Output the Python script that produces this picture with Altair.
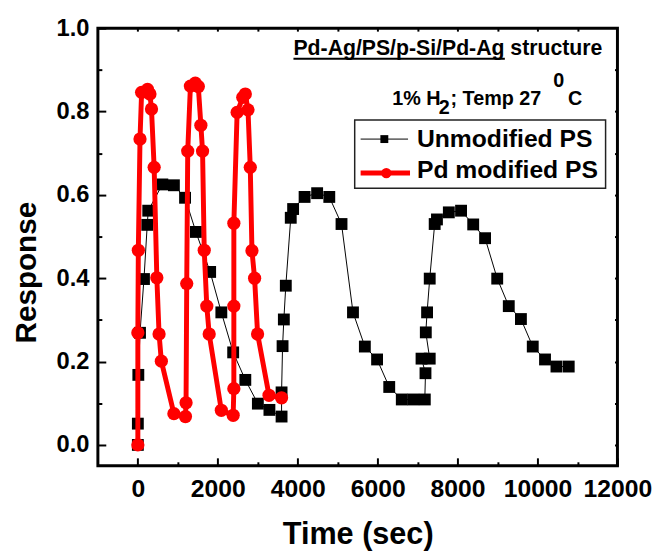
import altair as alt
import pandas as pd

# ---------------- data ----------------
# Unmodified PS (black squares)
black_t = [0, 0, 12, 54, 153, 235, 260, 613, 902, 1181, 1453, 1809, 2089, 2385,
           2689, 3003, 3292, 3596, 3596, 3621, 3653, 3702, 3826, 3885, 4172, 4486,
           4790, 5096, 5383, 5680, 5986, 6290, 6604, 6891, 7180, 7197, 7098, 7303,
           7205, 7237, 7303, 7427, 7484, 7781, 8087, 8391, 8688, 8992, 9281, 9585,
           9881, 10188, 10474, 10781]
black_r = [0.00, 0.051, 0.168, 0.269, 0.398, 0.528, 0.562, 0.625, 0.623, 0.593,
           0.511, 0.415, 0.318, 0.222, 0.156, 0.099, 0.084, 0.068, 0.126, 0.237,
           0.301, 0.382, 0.545, 0.566, 0.595, 0.604, 0.595, 0.530, 0.318, 0.236,
           0.205, 0.139, 0.109, 0.109, 0.109, 0.172, 0.207, 0.207, 0.270, 0.318,
           0.399, 0.530, 0.541, 0.558, 0.562, 0.529, 0.496, 0.399, 0.333, 0.302,
           0.236, 0.205, 0.188, 0.188]

# Pd modified PS (red circles)
red_t = [0, 0, 12, 54, 94, 242, 302, 341, 408, 475, 531, 588, 902, 1191, 1206,
         1223, 1248, 1315, 1438, 1513, 1577, 1619, 1661, 1725, 1785, 2089, 2385,
         2402, 2402, 2402, 2484, 2625, 2689, 2756, 2813, 2855, 2921, 2996, 3282,
         3596]
red_r = [0.00, 0.269, 0.467, 0.734, 0.846, 0.853, 0.842, 0.806, 0.666, 0.401,
         0.266, 0.201, 0.075, 0.068, 0.101, 0.387, 0.705, 0.861, 0.868, 0.860,
         0.767, 0.705, 0.467, 0.333, 0.266, 0.083, 0.071, 0.135, 0.333, 0.532,
         0.798, 0.834, 0.842, 0.804, 0.666, 0.466, 0.400, 0.266, 0.119, 0.113]

series_names = ["Unmodified PS", "Pd modified PS"]
x_major = [0, 2000, 4000, 6000, 8000, 10000, 12000]
x_minor = [1000, 3000, 5000, 7000, 9000, 11000]
x_all = [0, 1000, 2000, 3000, 4000, 5000, 6000, 7000, 8000, 9000, 10000, 11000]
y_major = [0.0, 0.2, 0.4, 0.6, 0.8, 1.0]
y_minor = [0.1, 0.3, 0.5, 0.7, 0.9]
y_all = [0.0, 0.1, 0.2, 0.3, 0.4, 0.5, 0.6, 0.7, 0.8, 0.9]

black_df = pd.DataFrame({"t": black_t, "r": black_r, "i": range(len(black_t))})
red_df = pd.DataFrame({"t": red_t, "r": red_r, "i": range(len(red_t))})
one = pd.DataFrame({"k": [0]})

# ---------------- layout ----------------
W, H = 526, 443
FONT = "Liberation Sans"
xs = alt.Scale(domain=[-1000, 12000], nice=False, zero=False)
ys = alt.Scale(domain=[-0.05, 1.0], nice=False, zero=False)


def tick_axis(orient, offset, values, size):
    return alt.Axis(orient=orient, offset=offset, values=values, tickSize=size,
                    tickWidth=2, tickColor="black", ticks=True, labels=False,
                    domain=False, grid=False, title="")


main_x = alt.Axis(orient="bottom", values=x_major, format="d", ticks=False,
                  domain=False, grid=False, labelFont=FONT,
                  labelFontWeight="bold", labelFontSize=25, labelColor="black",
                  labelPadding=11, labelFlush=False, labelOverlap=False,
                  title="Time (sec)", titleFont=FONT, titleFontWeight="bold",
                  titleFontSize=31, titleColor="black", titleX=263, titleY=79,
                  titleBaseline="alphabetic", titleAlign="center")
main_y = alt.Axis(orient="left", values=y_major, format=".1f", ticks=False,
                  domain=False, grid=False, labelFont=FONT,
                  labelFontWeight="bold", labelFontSize=24, labelColor="black",
                  labelPadding=9, labelFlush=False, labelOverlap=False,
                  title="Response", titleFont=FONT, titleFontWeight="bold",
                  titleFontSize=30, titleColor="black", titleAngle=270,
                  titleX=-63, titleY=247, titleBaseline="alphabetic",
                  titleAlign="center")

black_line = alt.Chart(black_df).mark_line(color="black", strokeWidth=1).encode(
    x=alt.X("t:Q", scale=xs, axis=main_x),
    y=alt.Y("r:Q", scale=ys, axis=main_y),
    order=alt.Order("i:Q"),
)
black_pts = alt.Chart(black_df).mark_point(shape="square", filled=True, size=144,
                                           color="black", opacity=1).encode(
    x=alt.X("t:Q", scale=xs, axis=tick_axis("top", -H, x_major, 8)),
    y=alt.Y("r:Q", scale=ys, axis=tick_axis("right", -W, y_major, 8)),
)
red_line = alt.Chart(red_df).mark_line(color="#ff0000", strokeWidth=5).encode(
    x=alt.X("t:Q", scale=xs, axis=tick_axis("top", -H, x_minor, 4)),
    y=alt.Y("r:Q", scale=ys, axis=tick_axis("right", -W, y_minor, 4)),
    order=alt.Order("i:Q"),
)
red_pts = alt.Chart(red_df).mark_point(shape="circle", filled=True, size=180,
                                       color="#ff0000", opacity=1).encode(
    x=alt.X("t:Q", scale=xs, axis=tick_axis("bottom", -H, x_all, 3)),
    y=alt.Y("r:Q", scale=ys, axis=tick_axis("left", -W, y_all, 3)),
)


def label(txt, x, y, size, align="left"):
    return alt.Chart(one).mark_text(text=txt, font=FONT, fontWeight="bold",
                                    fontSize=size, color="black", align=align,
                                    baseline="alphabetic").encode(
        x=alt.value(x), y=alt.value(y))


title_txt = label("Pd-Ag/PS/p-Si/Pd-Ag structure", 198, 27, 21.5)
underline = alt.Chart(one).mark_rule(color="black", strokeWidth=2).encode(
    x=alt.value(198), x2=alt.value(412), y=alt.value(31))
cond1 = label("1% H", 298, 78, 20)
cond2 = label("2", 345, 87, 20)
cond3 = label("; Temp 27", 357, 78, 20)
cond4 = label("0", 461, 60, 20)
cond5 = label("C", 476, 78, 20)

leg_box = alt.Chart(one).mark_rect(fill="white", stroke="#222222",
                                   strokeWidth=1.5).encode(
    x=alt.value(260), x2=alt.value(514), y=alt.value(93), y2=alt.value(162))
leg_l1 = alt.Chart(one).mark_rule(color="black", strokeWidth=1).encode(
    x=alt.value(266), x2=alt.value(314), y=alt.value(112.3))
leg_p1 = alt.Chart(one).mark_point(shape="square", filled=True, size=64,
                                   color="black", opacity=1).encode(
    x=alt.value(290), y=alt.value(112.3))
leg_l2 = alt.Chart(one).mark_rule(color="#ff0000", strokeWidth=5).encode(
    x=alt.value(266), x2=alt.value(316), y=alt.value(146.7))
leg_p2 = alt.Chart(one).mark_point(shape="circle", filled=True, size=110,
                                   color="#ff0000", opacity=1).encode(
    x=alt.value(292), y=alt.value(146.7))
leg_t1 = label(series_names[0], 323, 120, 25)
leg_t2 = label(series_names[1], 323, 151.7, 25)

chart = alt.layer(
    black_line, black_pts, red_line, red_pts,
    title_txt, underline, cond1, cond2, cond3, cond4, cond5,
    leg_box, leg_l1, leg_p1, leg_l2, leg_p2, leg_t1, leg_t2,
).resolve_axis(
    x="independent", y="independent"
).properties(
    width=W, height=H,
    autosize=alt.AutoSizeParams(type="none"),
    padding={"left": 91, "top": 17, "right": 36, "bottom": 90},
).configure_view(
    stroke="black", strokeWidth=3
)

chart.save("out.html", embed_options={"renderer": "svg", "actions": False})
